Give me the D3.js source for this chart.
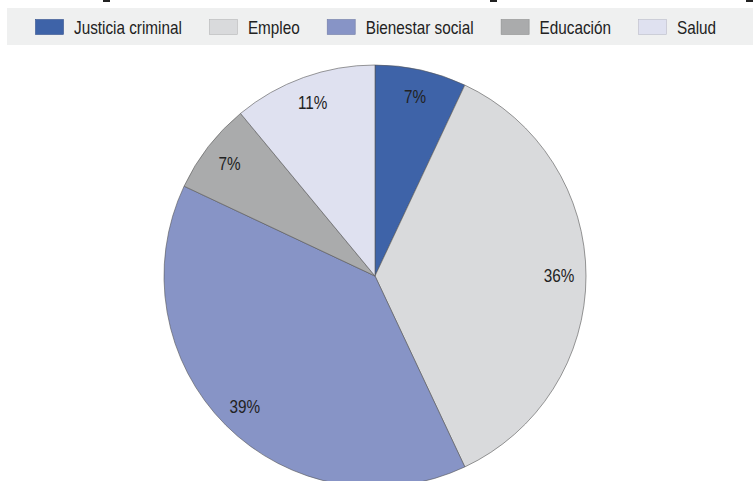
<!DOCTYPE html>
<html>
<head>
<meta charset="utf-8">
<script src="https://cdn.jsdelivr.net/npm/d3@7"></script>
<style>
  body { margin: 0; background: #fff; }
  text { font-family: "Liberation Sans", Arial, sans-serif; }
</style>
</head>
<body>
<svg></svg>
<script>
const categories = ['Justicia criminal', 'Empleo', 'Bienestar social', 'Educación', 'Salud'];
const values = [7, 36, 39, 7, 11];
const colors = ['#3e63a8', '#d9dadc', '#8794c6', '#aaabac', '#dfe1f0'];
const labels = ['7%', '36%', '39%', '7%', '11%'];

const width = 753;
const height = 481;
const cx = 375, cy = 276, radius = 211;
const squeeze = 0.85; // the original font is a condensed face

const svg = d3.select('svg')
    .attr('width', width)
    .attr('height', height);

// bits of the cut-off title above the chart
svg.selectAll('rect.cut')
    .data([103, 490, 746])
    .enter()
    .append('rect')
    .attr('x', d => d)
    .attr('y', 0)
    .attr('width', 7)
    .attr('height', 2)
    .attr('fill', '#222');

// legend
svg.append('rect')
    .attr('x', 7)
    .attr('y', 8)
    .attr('width', width - 7)
    .attr('height', 37)
    .attr('fill', '#eff0f0');

const legend = svg.append('g');
let lx = 35;
categories.forEach((c, i) => {
    const g = legend.append('g').attr('transform', 'translate(' + [lx, 0] + ')');
    g.append('rect')
        .attr('x', 0.5)
        .attr('y', 19.5)
        .attr('width', 28)
        .attr('height', 15)
        .attr('fill', colors[i])
        .attr('stroke', d3.color(colors[i]).darker(0.5))
        .attr('stroke-width', 0.6);
    const t = g.append('text')
        .attr('transform', 'translate(39,33.5) scale(' + squeeze + ',1)')
        .attr('font-size', 18)
        .attr('fill', '#222')
        .text(c);
    lx += 39 + t.node().getComputedTextLength() * squeeze + 27;
});

// pie
const pie = d3.pie().sort(null).value(d => d);
const arcs = pie(values);
const arc = d3.arc().innerRadius(0).outerRadius(radius);
const labelArc = d3.arc().innerRadius(184).outerRadius(184);

const g = svg.append('g').attr('transform', 'translate(' + [cx, cy] + ')');

g.selectAll('path')
    .data(arcs)
    .enter()
    .append('path')
    .attr('d', arc)
    .attr('fill', (d, i) => colors[i])
    .attr('stroke', '#555')
    .attr('stroke-width', 0.6);

g.selectAll('text')
    .data(arcs)
    .enter()
    .append('text')
    .attr('transform', d => 'translate(' + labelArc.centroid(d) + ') scale(' + squeeze + ',1)')
    .attr('text-anchor', 'middle')
    .attr('dy', '0.36em')
    .attr('font-size', 18)
    .attr('fill', '#222')
    .text((d, i) => labels[i]);
</script>
</body>
</html>
